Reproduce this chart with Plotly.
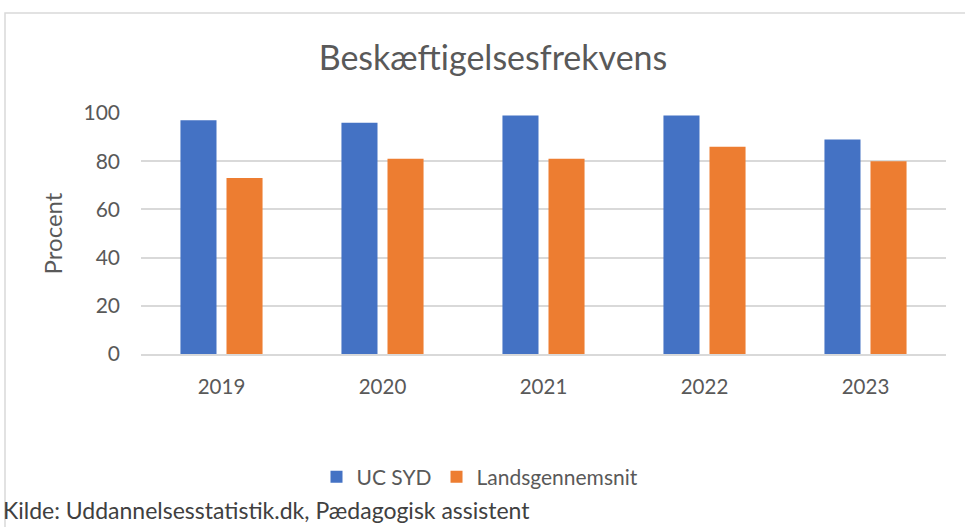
import plotly.graph_objects as go

years = ["2019", "2020", "2021", "2022", "2023"]
uc_syd = [97, 96, 99, 99, 89]
lands = [73, 81, 81, 86, 80]
series_names = ["UC SYD", "Landsgennemsnit"]
title_text = "Beskæftigelsesfrekvens"
y_title = "Procent"
source_text = "Kilde: Uddannelsesstatistik.dk, Pædagogisk assistent"

FONT = "Lato, 'Open Sans', sans-serif"

W, H = 965, 527
L, R, T, B = 141, 19, 113, 173
pw = W - L - R
ph = H - T - B

def px(x):
    return (x - L) / pw

def py(y):
    return (H - B - y) / ph

fig = go.Figure()
fig.add_trace(go.Bar(x=years, y=uc_syd, name=series_names[0], marker_color="#4472C4",
                     marker_line_width=0))
fig.add_trace(go.Bar(x=years, y=lands, name=series_names[1], marker_color="#ED7D31",
                     marker_line_width=0))

fig.update_layout(
    width=W, height=H,
    margin=dict(l=L, r=R, t=T, b=B),
    paper_bgcolor="white", plot_bgcolor="white",
    barmode="group", bargap=0.428, bargroupgap=0.217,
    title=dict(text=title_text, x=px(493), xref="paper", xanchor="center",
               y=1 - 58 / H, yref="container", yanchor="middle",
               font=dict(family=FONT, size=34, color="#595959")),
    font=dict(family=FONT, color="#595959"),
    showlegend=True,
    legend=dict(orientation="h", x=px(480), xanchor="center", y=py(477), yanchor="middle",
                font=dict(family=FONT, size=21, color="#595959"),
                itemwidth=30, tracegroupgap=0),
)
fig.update_yaxes(range=[0, 100], tickvals=[0, 20, 40, 60, 80, 100],
                 showgrid=True, gridcolor="#d9d9d9", gridwidth=1.5,
                 zeroline=False, showline=False, ticks="",
                 tickfont=dict(family=FONT, size=21, color="#595959"),
                 ticklabelstandoff=20,
                 title=dict(text=y_title, font=dict(family=FONT, size=24, color="#595959"), standoff=14))
fig.update_xaxes(showgrid=False, showline=True, linecolor="#d9d9d9", linewidth=1.5,
                 ticks="", tickfont=dict(family=FONT, size=20.5, color="#595959"),
                 ticklabelstandoff=14)

fig.add_shape(type="rect", xref="paper", yref="paper",
              x0=px(5), x1=px(975), y0=py(540), y1=py(13),
              line=dict(color="#d9d9d9", width=1.5), fillcolor="rgba(0,0,0,0)", layer="below")

fig.add_annotation(text=source_text, xref="paper", yref="paper", x=px(1), y=py(510),
                   xanchor="left", yanchor="middle", showarrow=False,
                   font=dict(family=FONT, size=23, color="#404040"))

fig.write_html("out.html", config={"displayModeBar": False},
               post_script="document.body.style.margin='0px';document.body.style.overflow='hidden';")
